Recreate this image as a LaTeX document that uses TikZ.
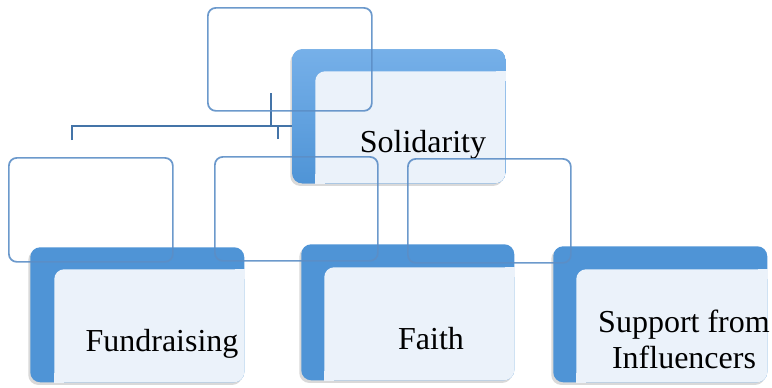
\documentclass[tikz,border=0pt]{standalone}
\usepackage{fontspec}
\setmainfont{Liberation Serif}
\usetikzlibrary{shadows}
\definecolor{bBlue}{RGB}{79, 148, 214}
\definecolor{cSolTop}{RGB}{118, 176, 233}
\definecolor{cFront}{RGB}{235, 242, 250}
\definecolor{bFrame}{RGB}{92, 142, 198}
\definecolor{bLink}{RGB}{68, 116, 168}

\begin{document}
\begin{tikzpicture}[
    x=0.75pt, y=-0.75pt,
    font=\fontsize{24pt}{26.5pt}\selectfont,
    boxsize/.style 2 args={minimum width=#1*0.75pt, minimum height=#2*0.75pt},
    back/.style={
        fill=bBlue,
        rounded corners=7.5pt,
        anchor=north west,
        inner sep=0pt,
        drop shadow={shadow xshift=-1.5pt, shadow yshift=-2pt, opacity=0.3}
    },
    front/.style={fill=cFront, rounded corners=7.5pt, anchor=north west, inner sep=0pt},
    frame/.style={
        draw=bFrame,
        draw opacity=0.9,
        line width=1.3pt,
        rounded corners=6pt,
        anchor=north west,
        inner sep=0pt
    },
    link/.style={draw=bLink, line width=1.5pt},
    label/.style={anchor=base, inner sep=0pt, text=black}
]
\useasboundingbox (0,0) rectangle (772,387);

% connector skeleton
\coordinate (stem) at (271,93);
\coordinate (busL) at (72,126);
\coordinate (dropL) at (72,140);
\coordinate (dropR) at (278,139);

% top level
\node[back, boxsize={213}{134}, top color=cSolTop, bottom color=bBlue] (solback) at (292,49) {};
\node[front, boxsize={190}{112}] (solfront) at (315,71) {};
\fill[cFront] (solfront.north east) rectangle ++(-10,10);
\fill[cFront] (solfront.south west) rectangle ++(10,-10);
\node[label] (soltext) at (423,152) {Solidarity};

\draw[link] (dropL) -- (busL) -- (busL -| solback.west);
\draw[link] (stem) -- (stem |- busL);
\draw[link] (dropR) -- (dropR |- busL);

% second level
\node[back, boxsize={214}{135}] (fundback) at (30,247) {};
\node[front, boxsize={190}{113}] (fundfront) at (54,269) {};
\fill[cFront] (fundfront.north east) rectangle ++(-10,10);
\fill[cFront] (fundfront.south west) rectangle ++(10,-10);
\node[label] (fundtext) at (162,351) {Fundraising};

\node[back, boxsize={213}{136}] (faithback) at (301,244) {};
\node[front, boxsize={190}{113}] (faithfront) at (324,267) {};
\fill[cFront] (faithfront.north east) rectangle ++(-10,10);
\fill[cFront] (faithfront.south west) rectangle ++(10,-10);
\node[label] (faithtext) at (431,349) {Faith};

\node[back, boxsize={214}{136}] (suppback) at (553,246) {};
\node[front, boxsize={191}{113}] (suppfront) at (576,269) {};
\fill[cFront] (suppfront.north east) rectangle ++(-10,10);
\fill[cFront] (suppfront.south west) rectangle ++(10,-10);
\node[label, align=center] (supptext) at (684,368) {Support from\\Influencers};

% empty frames
\node[frame, boxsize={164}{103}] (topframe) at (207,7) {};
\node[frame, boxsize={164}{104}] (frameA) at (8,157) {};
\node[frame, boxsize={163}{104}] (frameB) at (214,156) {};
\node[frame, boxsize={163}{104}] (frameC) at (407,158) {};

\end{tikzpicture}
\end{document}
